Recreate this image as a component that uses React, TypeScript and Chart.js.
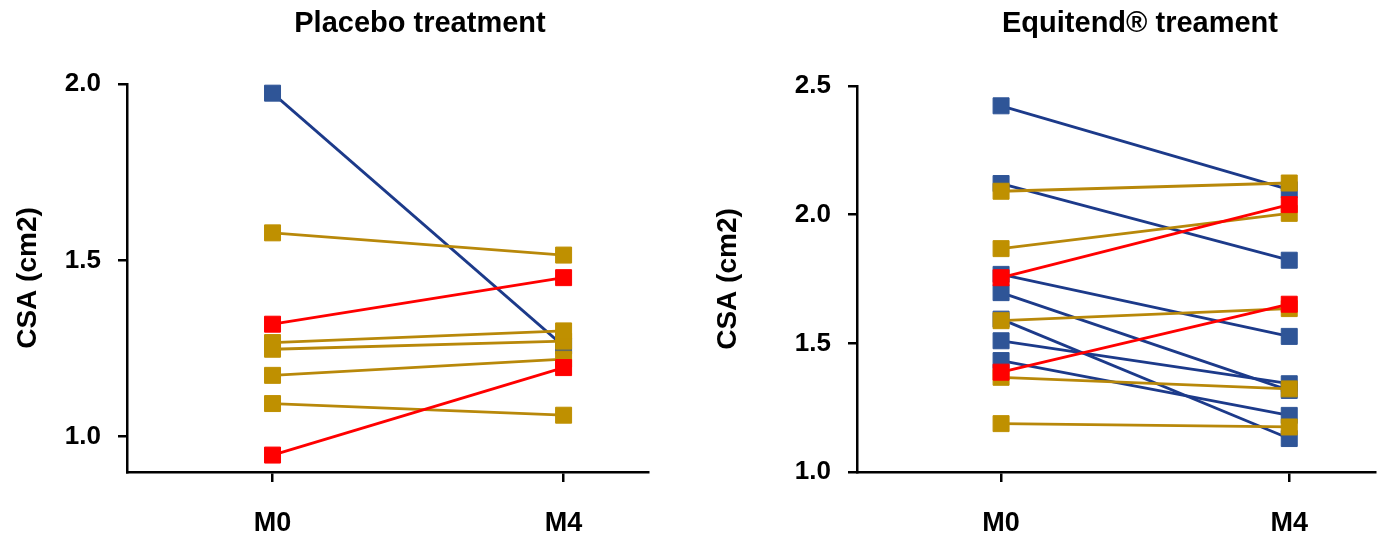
import React, { useEffect, useRef } from "react";
import { Chart, registerables } from "chart.js";

Chart.register(...registerables);

const xLabels = ["M0", "M4"];
const yTitle = "CSA (cm2)";

const placeboTitle = "Placebo treatment";
const placeboGroups = ["blue", "gold", "red", "gold", "gold", "gold", "gold", "red"];
const placeboM0 = [1.974, 1.578, 1.319, 1.267, 1.248, 1.174, 1.094, 0.948];
const placeboM4 = [1.257, 1.515, 1.451, 1.3, 1.271, 1.22, 1.061, 1.196];
const placeboTicks = [1.0, 1.5, 2.0];

const equitendTitle = "Equitend® treament";
const equitendGroups = [
  "blue", "blue", "blue", "blue", "blue", "blue", "blue",
  "gold", "gold", "gold", "gold", "gold",
  "red", "red",
];
const equitendM0 = [2.423, 2.121, 1.768, 1.697, 1.594, 1.51, 1.433, 2.091, 1.868, 1.588, 1.368, 1.188, 1.755, 1.388];
const equitendM4 = [2.097, 1.823, 1.527, 1.317, 1.13, 1.343, 1.22, 2.123, 2.005, 1.635, 1.323, 1.175, 2.039, 1.652];
const equitendTicks = [1.0, 1.5, 2.0, 2.5];

const palette: Record<string, { line: string; fill: string; order: number }> = {
  red: { line: "#FF0000", fill: "#FF0000", order: 0 },
  gold: { line: "#B8880A", fill: "#BF9000", order: 1 },
  blue: { line: "#1C3A8A", fill: "#2F5597", order: 2 },
};

const FONT = "'Liberation Sans', Arial, sans-serif";

type Cfg = {
  groups: string[];
  m0: number[];
  m4: number[];
  ticks: number[];
  yMin: number;
  yMax: number;
  xMax: number;
  axisWidth: number;
  padRight: number;
  padTop: number;
};

function PairChart(props: Cfg & { width: number; left: number }) {
  const ref = useRef<HTMLCanvasElement | null>(null);
  useEffect(() => {
    if (!ref.current) return;
    const datasets = props.groups.map((g, i) => {
      const p = palette[g];
      return {
        label: g + i,
        data: [
          { x: 0, y: props.m0[i] },
          { x: 1, y: props.m4[i] },
        ],
        showLine: true,
        borderColor: p.line,
        backgroundColor: p.fill,
        borderWidth: 2.8,
        pointStyle: "rect",
        pointRadius: 11.3,
        pointHoverRadius: 11.3,
        pointBorderWidth: 1,
        pointBorderColor: p.fill,
        order: p.order,
      };
    });
    const chart = new Chart(ref.current, {
      type: "scatter",
      data: { datasets: datasets as any },
      options: {
        animation: false,
        responsive: false,
        maintainAspectRatio: false,
        layout: { padding: { top: props.padTop, right: props.padRight, left: 0, bottom: 0 } },
        plugins: { legend: { display: false }, tooltip: { enabled: false }, title: { display: false } },
        scales: {
          x: {
            type: "linear",
            min: -0.5,
            max: props.xMax,
            afterBuildTicks: (s: any) => {
              s.ticks = xLabels.map((_, i) => ({ value: i }));
            },
            afterFit: (s: any) => {
              s.height = 67;
            },
            ticks: {
              callback: (v: any) => xLabels[Number(v)] ?? "",
              color: "#000",
              font: { family: FONT, size: 27, weight: "bold" },
              padding: 25,
              maxRotation: 0,
              autoSkip: false,
            },
            grid: { display: true, drawOnChartArea: false, drawTicks: true, tickLength: 10, color: "#000", lineWidth: 2.5 },
            border: { display: true, color: "#000", width: 2.5 },
          },
          y: {
            type: "linear",
            min: props.yMin,
            max: props.yMax,
            afterBuildTicks: (s: any) => {
              s.ticks = props.ticks.map((v) => ({ value: v }));
            },
            afterFit: (s: any) => {
              s.width = props.axisWidth;
            },
            ticks: {
              callback: (v: any) => Number(v).toFixed(1),
              color: "#000",
              font: { family: FONT, size: 26, weight: "bold" },
              padding: 17,
            },
            grid: { display: true, drawOnChartArea: false, drawTicks: true, tickLength: 9, color: "#000", lineWidth: 2.5 },
            border: { display: true, color: "#000", width: 2.5 },
            title: {
              display: true,
              text: yTitle,
              color: "#000",
              font: { family: FONT, size: 28, weight: "bold" },
              padding: { top: 11, bottom: 0 },
            },
          },
        },
      },
    });
    return () => chart.destroy();
  }, []);
  return (
    <canvas
      ref={ref}
      width={props.width}
      height={539}
      style={{ position: "absolute", left: props.left, top: 0, width: props.width, height: 539 }}
    />
  );
}

const titleStyle: React.CSSProperties = {
  position: "absolute",
  top: 5,
  fontFamily: FONT,
  fontWeight: "bold",
  fontSize: 29,
  lineHeight: "34px",
  textAlign: "center",
  color: "#000",
};

export default function App() {
  return (
    <div style={{ position: "fixed", left: 0, top: 0, width: 1388, height: 539, background: "#fff", overflow: "hidden" }}>
      <PairChart
        left={0}
        width={700}
        groups={placeboGroups}
        m0={placeboM0}
        m4={placeboM4}
        ticks={placeboTicks}
        yMin={0.9}
        yMax={2.0}
        xMax={1.29}
        axisWidth={127}
        padRight={52}
        padTop={84}
      />
      <PairChart
        left={700}
        width={688}
        groups={equitendGroups}
        m0={equitendM0}
        m4={equitendM4}
        ticks={equitendTicks}
        yMin={1.0}
        yMax={2.5}
        xMax={1.3}
        axisWidth={157}
        padRight={8}
        padTop={86}
      />
      <div style={{ ...titleStyle, left: 220, width: 400 }}>{placeboTitle}</div>
      <div style={{ ...titleStyle, left: 940, width: 400 }}>{equitendTitle}</div>
    </div>
  );
}
